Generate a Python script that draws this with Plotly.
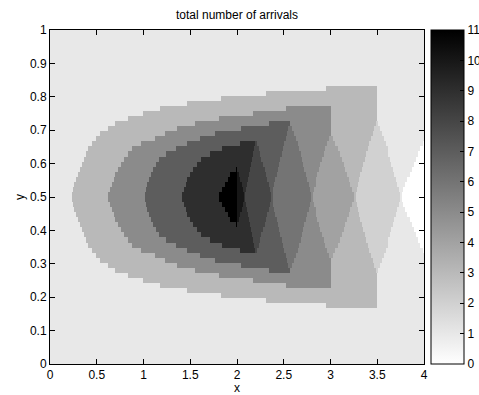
import numpy as np
import plotly.graph_objects as go

# ---- data ----
levels_min, levels_max = 0, 11
background_level = 1

# upper outline (y) of each nested band, from its left vertex (y=0.5) to its cut
band1_x = [0.22, 0.27, 0.33, 0.40, 0.49, 0.56, 0.65, 0.72, 0.88, 1.04, 1.25, 1.55, 1.95, 2.46, 3.15, 3.50]
band1_y = [0.50, 0.545, 0.59, 0.64, 0.675, 0.695, 0.71, 0.725, 0.74, 0.755, 0.77, 0.785, 0.80, 0.815, 0.83, 0.83]
band2_x = [0.61, 0.66, 0.72, 0.79, 0.86, 0.98, 1.13, 1.27, 1.41, 1.55, 1.90, 2.30, 2.62, 3.00]
band2_y = [0.50, 0.54, 0.58, 0.615, 0.64, 0.66, 0.675, 0.695, 0.71, 0.72, 0.74, 0.755, 0.77, 0.77]
band3_x = [1.01, 1.04, 1.09, 1.18, 1.39, 1.61, 1.82, 2.16, 2.35, 2.57]
band3_y = [0.50, 0.54, 0.58, 0.62, 0.65, 0.675, 0.695, 0.71, 0.72, 0.72]
band4_x = [1.40, 1.46, 1.54, 1.64, 1.80, 1.96, 2.20]
band4_y = [0.50, 0.55, 0.59, 0.62, 0.64, 0.655, 0.67]
band5_x = [1.80, 1.85, 1.90, 1.95, 2.00]
band5_y = [0.50, 0.53, 0.555, 0.575, 0.585]

# right part: vertical cuts, apex heights of the lenses and crossing points on y=0.5
cut_x = [2.00, 2.20, 2.57, 3.00, 3.50, 4.10]
apex_y = [0.58, 0.67, 0.72, 0.69, 0.73, 0.72]
cross_x = [2.085, 2.37, 2.80, 3.26, 3.75]
# shape of a lens leg: fraction of horizontal travel vs fraction of vertical travel from the apex
leg_u = [0.0, 0.25, 0.5, 0.75, 1.0]
leg_g = [0.0, 0.30, 0.55, 0.78, 1.0]

# ---- build the image ----
nx, ny = 400, 66
xc = (np.arange(nx) + 0.5) * 4.0 / nx
yc = (np.arange(ny) + 0.5) / ny
X, Y = np.meshgrid(xc, yc)
D = np.abs(Y - 0.5)

bands = [(band1_x, band1_y), (band2_x, band2_y), (band3_x, band3_y),
         (band4_x, band4_y), (band5_x, band5_y)]
inside = []
for bx, by in bands:
    h = np.interp(X, bx, by) - 0.5
    inside.append((X >= bx[0]) & (X <= bx[-1]) & (D < h))
inside = np.array(inside)


def leg_curve(i):
    """S-shaped front from the upper apex of lens i to the lower apex of lens i+1."""
    s = np.linspace(0, 1, 300)
    g = np.interp(s, leg_u, leg_g)
    ya = apex_y[i] - s * (apex_y[i] - 0.5)
    xa = cut_x[i] + (cross_x[i] - cut_x[i]) * g
    yb = (1 - apex_y[i + 1]) + s * (apex_y[i + 1] - 0.5)
    xb = cut_x[i + 1] - (cut_x[i + 1] - cross_x[i]) * g
    xs = np.concatenate([xa, xb[::-1]])
    ys = np.concatenate([ya, yb[::-1]])
    xs = np.maximum.accumulate(xs + np.arange(xs.size) * 1e-9)
    return xs, ys


Z = np.full(X.shape, float(background_level))
left = X < cut_x[0]
Z[left] = (1 + 2 * inside.sum(axis=0))[left]

for i in range(5):
    strip = (X >= cut_x[i]) & (X < cut_x[i + 1]) if i < 4 else (X >= cut_x[i])
    bstar = 4 - i
    count = 1 + 2 * inside[:bstar].sum(axis=0) if bstar > 0 else np.ones(X.shape)
    inner = inside[bstar - 1] if bstar > 0 else np.ones(X.shape, bool)
    xs, ys = leg_curve(i)
    A = np.interp(X, xs, ys)
    B = 1 - A
    lens = 2 * bstar + (Y < A).astype(int) + (Y > B).astype(int)
    val = np.where(inner, lens, count)
    Z[strip] = val[strip]

fig = go.Figure(go.Heatmap(
    x=xc, y=yc, z=Z, zmin=levels_min, zmax=levels_max,
    colorscale=[[0, "white"], [1, "black"]], zsmooth=False,
    colorbar=dict(x=1.0187, xanchor="left", xpad=0, ypad=0, y=0.5, yanchor="middle",
                  len=1, lenmode="fraction", thickness=33,
                  outlinewidth=1, outlinecolor="black",
                  tickvals=list(range(0, 12)), ticks="inside", ticklen=4,
                  tickcolor="black", tickfont=dict(size=12, color="black")),
))

axis_common = dict(showline=True, linecolor="black", linewidth=1, mirror="ticks",
                   ticks="inside", ticklen=5, tickcolor="black", showgrid=False,
                   zeroline=False, tickfont=dict(size=12, color="black"))
fig.update_xaxes(range=[0, 4], tickvals=[0, 0.5, 1, 1.5, 2, 2.5, 3, 3.5, 4],
                 ticktext=["0", "0.5", "1", "1.5", "2", "2.5", "3", "3.5", "4"],
                 title=dict(text="x", standoff=0, font=dict(size=12)), **axis_common)
fig.update_yaxes(range=[0, 1], tickvals=[i / 10 for i in range(11)],
                 ticktext=["0", "0.1", "0.2", "0.3", "0.4", "0.5", "0.6", "0.7", "0.8", "0.9", "1"],
                 title=dict(text="y", standoff=2, font=dict(size=12)), **axis_common)
fig.update_layout(
    width=479, height=395,
    margin=dict(l=49.5, r=54.5, t=29.5, b=30.5, autoexpand=False),
    paper_bgcolor="white", plot_bgcolor="white",
    font=dict(family="Liberation Sans, Arial, sans-serif", size=12, color="black"),
    title=dict(text="total number of arrivals", x=0.5, xref="paper", xanchor="center",
               y=1 - 15 / 395, yref="container", yanchor="middle", font=dict(size=12)),
)
fig.write_html("out.html")
